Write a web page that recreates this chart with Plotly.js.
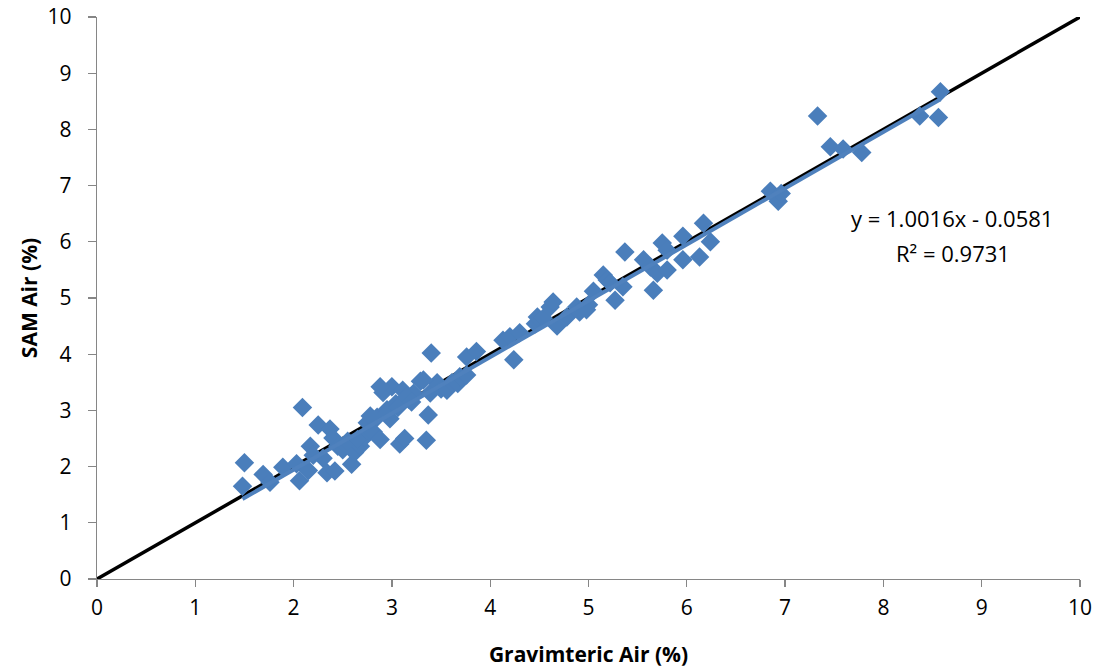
<!DOCTYPE html>
<html>
<head>
<meta charset="utf-8">
<script src="https://cdn.plot.ly/plotly-3.0.1.min.js"></script>
<style>
  html, body { margin: 0; padding: 0; background: #fff; }
  #chart { width: 1104px; height: 672px; }
</style>
</head>
<body>
<div id="chart"></div>
<script>
// Gravimetric air content vs. SAM air content (%)
const gravAir = [
  1.50, 1.48, 1.69, 1.76, 1.89, 2.03, 2.06, 2.09, 2.15, 2.17,
  2.20, 2.25, 2.30, 2.34, 2.37, 2.40, 2.42, 2.45, 2.50, 2.54,
  2.59, 2.62, 2.68, 2.72, 2.75, 2.81, 2.85, 2.88, 2.91, 2.95,
  2.98, 3.00, 3.04, 3.08, 3.11, 3.13, 3.17, 3.22, 3.29, 3.35,
  3.37, 3.39, 3.40, 3.46, 3.50, 3.56, 3.61, 3.67, 3.69, 3.76,
  3.76, 3.86, 2.88, 2.95, 3.15, 3.32, 4.13, 4.20, 4.24, 4.30,
  4.46, 4.48, 4.54, 4.61, 4.64, 4.68, 4.78, 4.88, 4.91, 4.98,
  5.00, 5.05, 5.15, 5.19, 5.22, 5.27, 5.35, 5.37, 5.56, 5.63,
  5.66, 5.70, 5.75, 5.80, 5.80, 5.96, 5.96, 6.13, 6.17, 6.24,
  6.85, 6.93, 6.96, 7.33, 7.46, 7.59, 7.78, 8.37, 8.56, 8.58,
  2.55, 2.65, 2.78, 3.06, 3.20
];
const samAir = [
  2.07, 1.65, 1.86, 1.72, 1.99, 2.05, 1.75, 3.05, 1.93, 2.36,
  2.20, 2.74, 2.15, 1.89, 2.67, 2.51, 1.92, 2.36, 2.30, 2.38,
  2.04, 2.25, 2.36, 2.52, 2.78, 2.62, 2.88, 2.48, 3.32, 3.01,
  2.85, 3.42, 3.12, 2.40, 3.36, 2.50, 3.20, 3.30, 3.52, 2.47,
  2.92, 3.31, 4.02, 3.49, 3.38, 3.36, 3.49, 3.48, 3.60, 3.95,
  3.63, 4.05, 3.42, 2.95, 3.24, 3.54, 4.25, 4.31, 3.90, 4.38,
  4.54, 4.66, 4.64, 4.84, 4.93, 4.50, 4.66, 4.84, 4.75, 4.79,
  4.88, 5.12, 5.41, 5.32, 5.27, 4.96, 5.20, 5.82, 5.68, 5.55,
  5.14, 5.44, 5.98, 5.85, 5.50, 6.10, 5.68, 5.73, 6.33, 6.00,
  6.90, 6.72, 6.86, 8.24, 7.69, 7.65, 7.59, 8.24, 8.21, 8.67,
  2.45, 2.48, 2.90, 3.05, 3.15
];

// Linear fit reported on the chart: y = 1.0016x - 0.0581, R² = 0.9731
const fitSlope = 1.0016;
const fitIntercept = -0.0581;
const fitR2 = 0.9731;

// 1:1 reference line
const unityX = [0, 10];

const xMin = Math.min(...gravAir);
const xMax = Math.max(...gravAir);
const fitX = [xMin, xMax];
const fitY = fitX.map(v => fitSlope * v + fitIntercept);

const blue = '#4A7EBB';
const fontFam = 'Open Sans, Liberation Sans, sans-serif';

const traces = [
  {
    x: unityX, y: unityX, mode: 'lines', type: 'scatter',
    line: { color: '#000000', width: 3.5 },
    hoverinfo: 'skip', showlegend: false
  },
  {
    x: gravAir, y: samAir, mode: 'markers', type: 'scatter',
    marker: { symbol: 'diamond', size: 15, color: blue, line: { width: 0 } },
    showlegend: false
  },
  {
    x: fitX, y: fitY, mode: 'lines', type: 'scatter',
    line: { color: '#4F81BD', width: 4 },
    hoverinfo: 'skip', showlegend: false
  }
];

const sign = fitIntercept < 0 ? ' - ' : ' + ';
const eqText = 'y = ' + fitSlope.toFixed(4) + 'x' + sign + Math.abs(fitIntercept).toFixed(4);
const r2Text = 'R² = ' + fitR2.toFixed(4);

const layout = {
  width: 1104, height: 672,
  margin: { l: 97, r: 24, t: 17, b: 93 },
  paper_bgcolor: '#ffffff', plot_bgcolor: '#ffffff',
  font: { family: fontFam, size: 21, color: '#000000' },
  showlegend: false,
  xaxis: {
    range: [0, 10], dtick: 1, tick0: 0,
    showgrid: false, zeroline: false,
    showline: true, linecolor: '#868686', linewidth: 1.3,
    ticks: 'outside', ticklen: 7, tickcolor: '#868686', tickwidth: 1.3,
    ticklabelstandoff: 2,
    tickfont: { family: fontFam, size: 21, color: '#000' },
    title: { text: '<b>Gravimteric Air (%)</b>', font: { family: fontFam, size: 21, color: '#000' }, standoff: 27 },
    fixedrange: true
  },
  yaxis: {
    range: [0, 10], dtick: 1, tick0: 0,
    showgrid: false, zeroline: false,
    showline: true, linecolor: '#868686', linewidth: 1.3,
    ticks: 'outside', ticklen: 8, tickcolor: '#868686', tickwidth: 1.3,
    ticklabelstandoff: 12,
    tickfont: { family: fontFam, size: 21, color: '#000' },
    title: { text: '<b>SAM Air (%)</b>', font: { family: fontFam, size: 21, color: '#000' }, standoff: 4 },
    fixedrange: true
  },
  annotations: [
    { xref: 'paper', yref: 'paper', x: (952 - 97) / 983, y: (579 - 218) / 562,
      text: eqText, showarrow: false, xanchor: 'center', yanchor: 'middle',
      font: { family: fontFam, size: 22, color: '#000' } },
    { xref: 'paper', yref: 'paper', x: (953 - 97) / 983, y: (579 - 253) / 562,
      text: r2Text, showarrow: false, xanchor: 'center', yanchor: 'middle',
      font: { family: fontFam, size: 22, color: '#000' } }
  ]
};

Plotly.newPlot('chart', traces, layout, { displayModeBar: false, staticPlot: true });
</script>
</body>
</html>
